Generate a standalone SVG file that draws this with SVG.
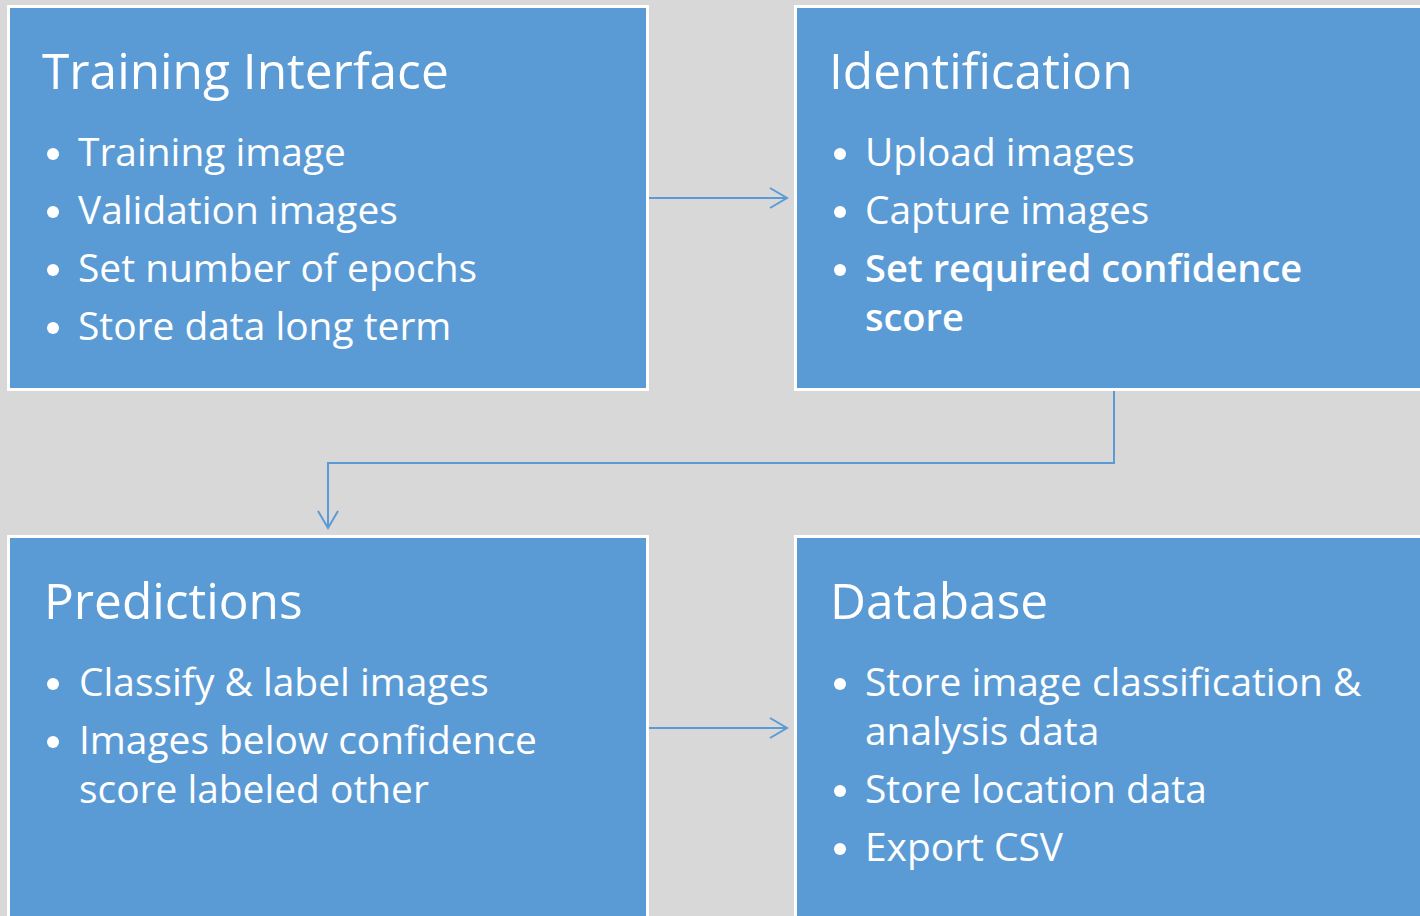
<svg xmlns="http://www.w3.org/2000/svg" width="1420" height="916" viewBox="0 0 1420 916">
<defs>
<style>
.box{fill:#5b9bd5;stroke:#ffffff;stroke-width:3}
.title{font-family:"Open Sans","Noto Sans",sans-serif;font-size:49.6px;fill:#ffffff}
.item{font-family:"Open Sans","Noto Sans",sans-serif;font-size:38.9px;fill:#ffffff}
.bold{font-weight:600;font-size:38px}
.conn{fill:none;stroke:#5b9bd5;stroke-width:2}
</style>
<marker id="arr" viewBox="0 0 20 24" refX="18" refY="12" markerWidth="20" markerHeight="24" markerUnits="userSpaceOnUse" orient="auto">
<path d="M1,2 L18,12 L1,22" fill="none" stroke="#5b9bd5" stroke-width="2"/>
</marker>
</defs>
<rect x="0" y="0" width="1420" height="916" fill="#d8d8d8"/>
<g id="connectors">
<path class="conn" d="M649,198 H787" marker-end="url(#arr)"/>
<path class="conn" d="M1114,391 V463 H328 V528" marker-end="url(#arr)"/>
<path class="conn" d="M649,728 H787" marker-end="url(#arr)"/>
</g>
<g id="training">
<rect class="box" x="8.5" y="6.5" width="639" height="383"/>
<text class="title" x="42" y="89">Training Interface</text>
<g fill="#fff"><circle cx="53" cy="154" r="6"/><circle cx="53" cy="212" r="6"/><circle cx="53" cy="270" r="6"/><circle cx="53" cy="328" r="6"/></g>
<text class="item" x="78" y="166">Training image</text>
<text class="item" x="78" y="224">Validation images</text>
<text class="item" x="78" y="282">Set number of epochs</text>
<text class="item" x="78" y="340">Store data long term</text>
</g>
<g id="identification">
<rect class="box" x="795.5" y="6.5" width="640" height="383"/>
<text class="title" x="829" y="89">Identification</text>
<g fill="#fff"><circle cx="840" cy="154" r="6"/><circle cx="840" cy="212" r="6"/><circle cx="840" cy="270" r="6"/></g>
<text class="item" x="865" y="166">Upload images</text>
<text class="item" x="865" y="224">Capture images</text>
<text class="item bold" x="865" y="282">Set required confidence</text>
<text class="item bold" x="865" y="331">score</text>
</g>
<g id="predictions">
<rect class="box" x="8.5" y="536.5" width="639" height="400"/>
<text class="title" x="44" y="619">Predictions</text>
<g fill="#fff"><circle cx="53" cy="684" r="6"/><circle cx="53" cy="742" r="6"/></g>
<text class="item" x="79" y="696">Classify &amp; label images</text>
<text class="item" x="79" y="754">Images below confidence</text>
<text class="item" x="79" y="803">score labeled other</text>
</g>
<g id="database">
<rect class="box" x="795.5" y="536.5" width="640" height="400"/>
<text class="title" x="830" y="619">Database</text>
<g fill="#fff"><circle cx="840" cy="684" r="6"/><circle cx="840" cy="791" r="6"/><circle cx="840" cy="849" r="6"/></g>
<text class="item" x="865" y="696">Store image classification &amp;</text>
<text class="item" x="865" y="745">analysis data</text>
<text class="item" x="865" y="803">Store location data</text>
<text class="item" x="865" y="861">Export CSV</text>
</g>
</svg>
